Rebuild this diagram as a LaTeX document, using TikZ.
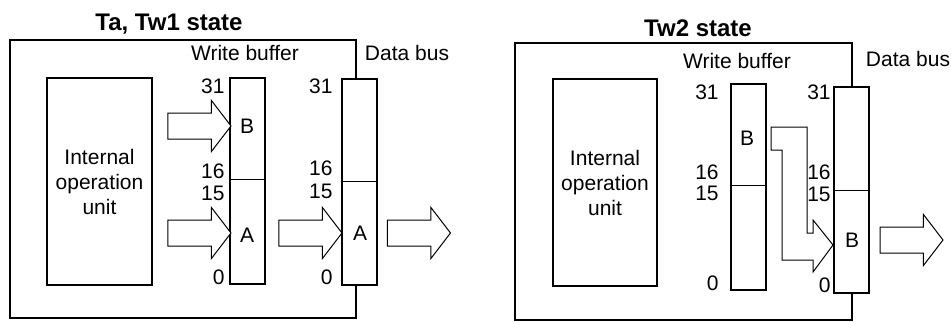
\documentclass[tikz,border=0pt]{standalone}
\usepackage{fontspec}
\setmainfont{Liberation Sans}
\usetikzlibrary{shapes.arrows, positioning}

\tikzset{
  box/.style={draw, line width=1pt, fill=white, inner sep=0pt},
  col/.style={draw, line width=1pt, fill=white, inner sep=0pt, minimum width=17.5pt, minimum height=103pt},
  num/.style={anchor=east, inner sep=0pt},
  title/.style={font=\fontsize{12}{14}\selectfont\bfseries, inner sep=0pt},
  barrow/.style={single arrow, draw, fill=white, line width=0.5pt, inner xsep=0pt, inner ysep=6.25pt,
    minimum height=31.5pt, minimum width=25pt, single arrow head extend=6.25pt,
    single arrow tip angle=105},
}

\begin{document}
\begin{tikzpicture}[x=0.5pt,y=-0.5pt,font=\fontsize{10.5}{12.5}\selectfont]
  \useasboundingbox (0,0) rectangle (951,321);

  % Ta, Tw1 state
  \node[title] (t1) at (169,24) {Ta, Tw1 state};
  \draw[line width=1pt] (10,40) rectangle (356,318);
  \node[box, minimum width=52.5pt, minimum height=103.5pt, align=center] (unit1) at (99.5,181.5)
    {Internal\\operation\\unit};
  \node[col] (wb1) at (247.5,181) {};
  \node[col] (bus1) at (359.5,181.5) {};
  \draw[line width=0.5pt] (wb1.west |- 0,179) -- (wb1.east |- 0,179);
  \draw[line width=0.5pt] (bus1.west |- 0,181) -- (bus1.east |- 0,181);
  \node (wbl1) at (245,53) {Write buffer};
  \node (dbl1) at (407,53) {Data bus};
  \node[num] at (225,86) {31};
  \node[num] at (225,171) {16};
  \node[num] at (225,193) {15};
  \node[num] at (225,277) {0};
  \node[num] at (333,86) {31};
  \node[num] at (333,168) {16};
  \node[num] at (333,191) {15};
  \node[num] at (333,277) {0};
  \node (b1) at (247,126) {B};
  \node (a1) at (247,235) {A};
  \node (a2) at (360,233) {A};
  \node[barrow] (ar1) at (194.5,126) {};
  \node[barrow] (ar2) at (194.5,233) {};
  \node[barrow] (ar3) at (305.5,233) {};
  \node[barrow] (ar4) at (414,233) {};

  % Tw2 state
  \node[title] (t2) at (698,28) {Tw2 state};
  \draw[line width=1pt] (515,43) rectangle (852,320);
  \node[box, minimum width=52pt, minimum height=103.5pt, align=center] (unit2) at (605,182.5)
    {Internal\\operation\\unit};
  \node[col] (wb2) at (748.5,186.5) {};
  \node[col] (bus2) at (851.5,190) {};
  \draw[line width=0.5pt] (wb2.west |- 0,185) -- (wb2.east |- 0,185);
  \draw[line width=0.5pt] (bus2.west |- 0,190) -- (bus2.east |- 0,190);
  \node (wbl2) at (737,61) {Write buffer};
  \node (dbl2) at (908,59) {Data bus};
  \node[num] at (719,92) {31};
  \node[num] at (719,172) {16};
  \node[num] at (719,193) {15};
  \node[num] at (719,283) {0};
  \node[num] at (831,92) {31};
  \node[num] at (831,172) {16};
  \node[num] at (831,194) {15};
  \node[num] at (831,285) {0};
  \node (b2) at (747,138) {B};
  \node (b3) at (852,240) {B};
  \node[barrow] (ar5) at (906.5,240) {};
  \coordinate (bend) at (771,127);
  \draw[line width=0.5pt, fill=white] (bend) -- (807,127) -- (807,233) -- (813,233) -- (813,220)
    -- (833,245) -- (813,272) -- (813,260) -- (782,260) -- (782,150) -- (771,150) -- cycle;
\end{tikzpicture}
\end{document}
